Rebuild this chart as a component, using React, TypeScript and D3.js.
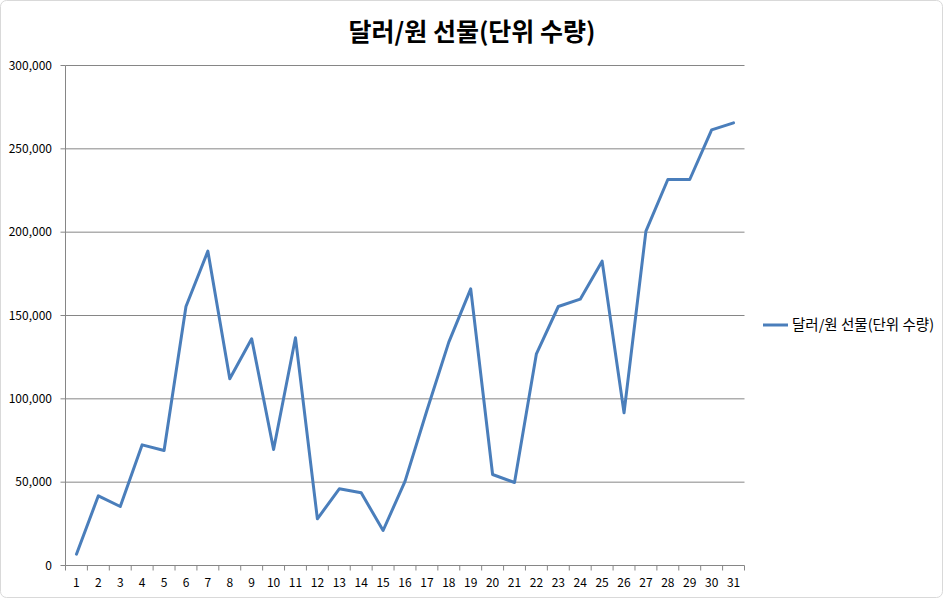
import * as d3 from "d3";

const width = 944;
const height = 599;
const marginLeft = 65.5;
const marginRight = 199.5;
const marginTop = 65.5;
const marginBottom = 33.5;

const title = "달러/원 선물(단위 수량)";
const seriesName = "달러/원 선물(단위 수량)";
const days = d3.range(1, 32).map(String);
const volume = [
  6800, 41800, 35400, 72400, 69000, 155400, 188600, 112000, 136000, 69600,
  136600, 28000, 46000, 43600, 21000, 50500, 93000, 134000, 166000, 54600,
  49800, 127000, 155400, 159800, 182600, 91600, 200600, 231600, 231600, 261400,
  265600,
];
const yTicks = [0, 50000, 100000, 150000, 200000, 250000, 300000];

const gridColor = "#868686";
const lineColor = "#4a7ebb";
const font = "'Noto Sans CJK KR', 'Noto Sans', sans-serif";

const App = () => {
  const x = d3.scaleBand(days, [marginLeft, width - marginRight]);
  const xEdge = d3.scaleLinear([0, days.length], [marginLeft, width - marginRight]);
  const y = d3.scaleLinear([0, 300000], [height - marginBottom, marginTop]);
  const fmt = d3.format(",");
  const line = d3.line<number>((d, i) => x(days[i])! + x.bandwidth() / 2, y);
  const bottom = height - marginBottom;

  return (
    <svg
      width={width}
      height={height}
      style={{ position: "absolute", left: 0, top: 0, background: "#fff" }}
    >
      <rect x={0.5} y={0.5} width={width - 2} height={height - 2} rx={6} fill="#fff" stroke="#d9d9d9" />
      <text x={472} y={41} textAnchor="middle" fontFamily={font} fontWeight="bold" fontSize={25} fill="#000">
        {title}
      </text>
      {yTicks.map((t) => (
        <g key={t}>
          {t > 0 && (
            <line x1={marginLeft} x2={width - marginRight} y1={y(t)} y2={y(t)} stroke={gridColor} />
          )}
          <line x1={marginLeft - 5} x2={marginLeft} y1={y(t)} y2={y(t)} stroke={gridColor} />
          <text x={52} y={y(t)} dy="0.35em" textAnchor="end" fontFamily={font} fontSize={12} fill="#000">
            {fmt(t)}
          </text>
        </g>
      ))}
      <line x1={marginLeft} x2={marginLeft} y1={marginTop} y2={bottom} stroke={gridColor} />
      <line x1={marginLeft} x2={width - marginRight} y1={bottom} y2={bottom} stroke={gridColor} />
      {d3.range(days.length + 1).map((i) => (
        <line key={i} x1={xEdge(i)} x2={xEdge(i)} y1={bottom} y2={bottom + 5} stroke={gridColor} />
      ))}
      {days.map((d) => (
        <text
          key={d}
          x={x(d)! + x.bandwidth() / 2}
          y={bottom + 17}
          dy="0.35em"
          textAnchor="middle"
          fontFamily={font}
          fontSize={12}
          fill="#000"
        >
          {d}
        </text>
      ))}
      <path
        d={line(volume) as string}
        fill="none"
        stroke={lineColor}
        strokeWidth={3}
        strokeLinejoin="round"
        strokeLinecap="round"
      />
      <line x1={763} x2={788} y1={325} y2={325} stroke={lineColor} strokeWidth={3} />
      <text x={792} y={325} dy="0.35em" fontFamily={font} fontSize={14.5} fill="#000">
        {seriesName}
      </text>
    </svg>
  );
};

export default App;
